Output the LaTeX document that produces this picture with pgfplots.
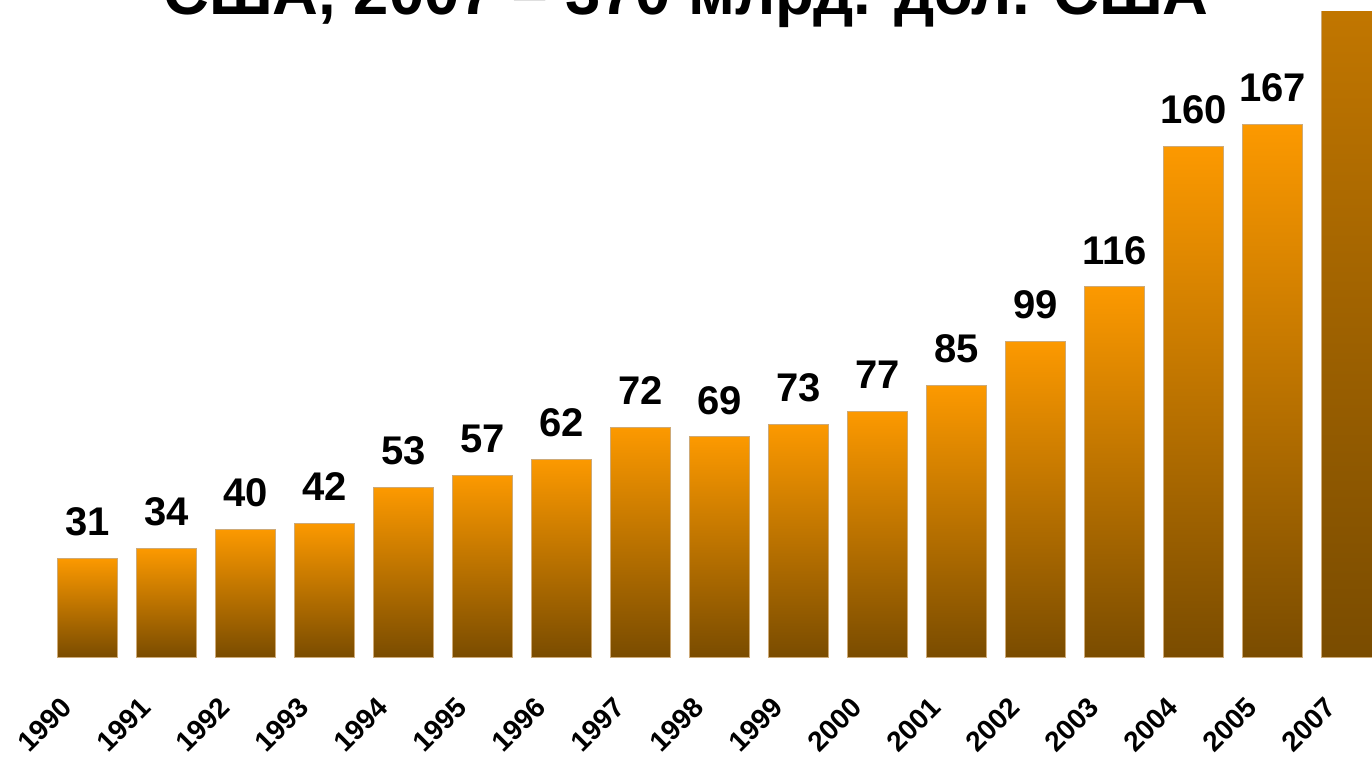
\documentclass[border=0pt]{standalone}
\usepackage{pgfplots}
\pgfplotsset{compat=1.18}
\usepackage{fontspec}
\setmainfont{Liberation Sans}
\definecolor{barTop}{RGB}{252,153,0}
\definecolor{barBot}{RGB}{122,76,0}
\definecolor{barEdge}{RGB}{205,170,120}
\begin{document}
\begin{tikzpicture}
\begin{axis}[
  scale only axis, width=686pt, height=322.5pt,
  at={(0pt,49.5pt)}, anchor=south west,
  xmin=-1.108, xmax=16.259, ymin=0, ymax=202.2,
  axis line style={draw=none}, ytick=\empty,
  xtick={0,...,16},
  xticklabels={1990,1991,1992,1993,1994,1995,1996,1997,1998,1999,2000,2001,2002,2003,2004,2005,2007},
  major tick length=0pt,
  xticklabel style={xshift=-13.75pt, yshift=-19pt, rotate=45, anchor=north east, inner sep=0pt, font=\bfseries\fontsize{14}{17}\selectfont},
  /pgf/number format/assume math mode=true,
  mybar/.style={ybar, bar shift=0pt, bar width=30pt, shading=axis, top color=barTop, bottom color=barBot, draw=barEdge, line width=0.5pt,
    nodes near coords, every node near coord/.append style={anchor=south, inner sep=0pt, yshift=11pt, font=\bfseries\fontsize{20}{24}\selectfont, text=black}},
]
\addplot[mybar] coordinates {(0,31)};
\addplot[mybar] coordinates {(1,34)};
\addplot[mybar] coordinates {(2,40)};
\addplot[mybar] coordinates {(3,42)};
\addplot[mybar] coordinates {(4,53)};
\addplot[mybar] coordinates {(5,57)};
\addplot[mybar] coordinates {(6,62)};
\addplot[mybar] coordinates {(7,72)};
\addplot[mybar] coordinates {(8,69)};
\addplot[mybar] coordinates {(9,73)};
\addplot[mybar] coordinates {(10,77)};
\addplot[mybar] coordinates {(11,85)};
\addplot[mybar] coordinates {(12,99)};
\addplot[mybar] coordinates {(13,116)};
\addplot[mybar] coordinates {(14,160)};
\addplot[mybar] coordinates {(15,167)};
\addplot[mybar] coordinates {(16,370)};
\end{axis}
\node[anchor=base, inner sep=0pt, font=\bfseries\fontsize{31.7}{38}\selectfont] at (343pt,370.5pt) {США, 2007 – 370 млрд. дол. США};
\pgfresetboundingbox
\useasboundingbox (0pt,0pt) rectangle (686pt,378pt);
\end{tikzpicture}
\end{document}
